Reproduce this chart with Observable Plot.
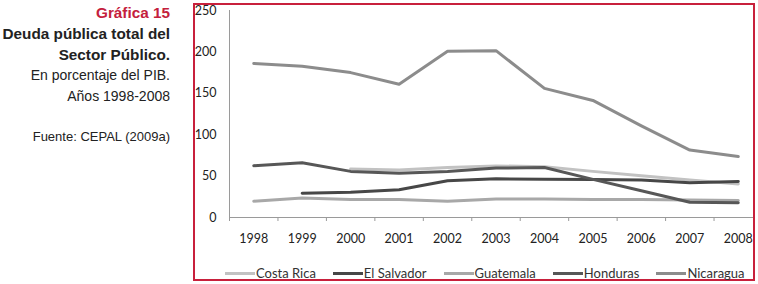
<!DOCTYPE html>
<html>
<head>
<meta charset="utf-8">
<script src="https://cdn.jsdelivr.net/npm/d3@7"></script>
<script src="https://cdn.jsdelivr.net/npm/@observablehq/plot@0.6"></script>
<style>
  html, body { margin: 0; padding: 0; background: #fff; }
  #page { position: relative; width: 758px; height: 284px; overflow: hidden; }
  #side { position: absolute; left: 0; top: 2px; width: 170px; text-align: right;
          font-family: "Liberation Sans", Arial, sans-serif; font-size: 14px; line-height: 21px; color: #222; }
  #side .red { color: #c4203c; font-weight: bold; font-size: 15.3px; }
  #side .b { font-weight: bold; font-size: 15.3px; }
  #side .src { font-size: 13px; margin-top: 19px; }
  #frame { position: absolute; left: 193px; top: 3px; width: 562px; height: 278px;
           border: 2px solid #c8203c; box-sizing: border-box; }
  #chart { position: absolute; left: 0; top: -5px; width: 558px; }
  #chart svg { max-width: none !important; overflow: hidden !important; }
  #legend { position: absolute; left: 30px; top: 262px; display: flex; align-items: center;
            font-family: Lato, sans-serif; font-size: 13px; line-height: 13px; color: #333; white-space: nowrap; }
  #legend .item { display: flex; align-items: center; margin-right: 17px; }
  #legend .sw { width: 30px; height: 3px; margin-right: 1px; }
</style>
</head>
<body>
<div id="page">
  <div id="side">
    <div class="red">Gráfica 15</div>
    <div class="b">Deuda pública total del</div>
    <div class="b">Sector Público.</div>
    <div>En porcentaje del PIB.</div>
    <div>Años 1998-2008</div>
    <div class="src">Fuente: CEPAL (2009a)</div>
  </div>
  <div id="frame">
    <div id="chart"></div>
    <div id="legend"></div>
  </div>
</div>
<script>
const years = [1998, 1999, 2000, 2001, 2002, 2003, 2004, 2005, 2006, 2007, 2008];
const seriesNames = ["Costa Rica", "El Salvador", "Guatemala", "Honduras", "Nicaragua"];
const costaRica  = [null, null, 58.5, 57.3, 60.5, 62.3, 61.3, 55.7, 50.5, 45.3, 40.5];
const elSalvador = [null, 29.2, 30.4, 33.6, 44.5, 46.7, 46.3, 46.0, 45.3, 42.0, 43.6];
const guatemala  = [19.6, 23.6, 21.6, 21.8, 19.6, 22.4, 22.2, 21.6, 21.6, 21.0, 20.4];
const honduras   = [62.5, 66.0, 55.7, 53.3, 55.7, 59.7, 60.3, 46.0, 32.4, 18.4, 17.7];
const nicaragua  = [186.0, 182.7, 175.0, 161.0, 200.7, 201.5, 156.0, 141.4, 110.6, 81.4, 73.7];
const yTicks = [0, 50, 100, 150, 200, 250];
const colors = ["#c2c2c2", "#474747", "#a8a8a8", "#575757", "#8c8c8c"];

const allValues = [costaRica, elSalvador, guatemala, honduras, nicaragua];
const data = [];
seriesNames.forEach((name, i) => {
  years.forEach((yr, j) => {
    const v = allValues[i][j];
    if (v != null) data.push({country: name, year: yr, value: v});
  });
});
const boundaries = years.map(y => y - 0.5).concat([years[years.length - 1] + 0.5]);
const xDomain = [years[0] - 0.5, years[years.length - 1] + 0.5];

const chart = Plot.plot({
  width: 558,
  height: 245,
  marginLeft: 34,
  marginRight: 0,
  marginTop: 10,
  marginBottom: 28,
  style: {fontFamily: "Lato, sans-serif", fontSize: "12.5px", color: "#222", background: "transparent", maxWidth: "none", overflow: "hidden"},
  x: {domain: xDomain, range: [34, 567]},
  y: {domain: [0, 250]},
  color: {domain: seriesNames, range: colors},
  marks: [
    Plot.ruleX([xDomain[0]], {y1: 0, y2: 250, stroke: "#9a9a9a", strokeWidth: 1}),
    Plot.ruleY([0], {x1: xDomain[0], x2: xDomain[1], stroke: "#9a9a9a", strokeWidth: 1}),
    Plot.axisY({ticks: yTicks, tickSize: 0, tickPadding: 13, label: null, fill: "#222"}),
    Plot.axisX({ticks: boundaries, tickSize: 4, stroke: "#9a9a9a", tickFormat: () => "", label: null}),
    Plot.axisX({ticks: years, tickSize: 0, tickPadding: 17, tickFormat: d => String(d), label: null, fill: "#222"}),
    Plot.line(data, {x: "year", y: "value", z: "country", stroke: "country", strokeWidth: 3, strokeLinejoin: "round"})
  ]
});
document.getElementById("chart").appendChild(chart);

const legend = document.getElementById("legend");
seriesNames.forEach((name, i) => {
  const item = document.createElement("div");
  item.className = "item";
  const sw = document.createElement("div");
  sw.className = "sw";
  sw.style.background = colors[i];
  const label = document.createElement("span");
  label.textContent = name;
  item.appendChild(sw);
  item.appendChild(label);
  legend.appendChild(item);
});
</script>
</body>
</html>
